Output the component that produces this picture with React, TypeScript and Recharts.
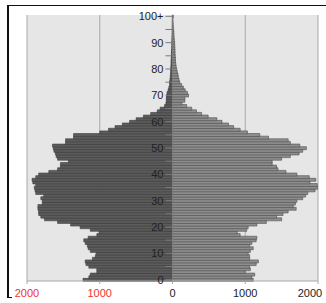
import { Bar, BarChart, CartesianGrid, ReferenceLine, XAxis, YAxis } from 'recharts';

const ages = [
  0, 1, 2, 3, 4, 5, 6, 7, 8, 9, 10, 11, 12, 13, 14, 15, 16, 17, 18, 19,
  20, 21, 22, 23, 24, 25, 26, 27, 28, 29, 30, 31, 32, 33, 34, 35, 36, 37, 38, 39,
  40, 41, 42, 43, 44, 45, 46, 47, 48, 49, 50, 51, 52, 53, 54, 55, 56, 57, 58, 59,
  60, 61, 62, 63, 64, 65, 66, 67, 68, 69, 70, 71, 72, 73, 74, 75, 76, 77, 78, 79,
  80, 81, 82, 83, 84, 85, 86, 87, 88, 89, 90, 91, 92, 93, 94, 95, 96, 97, 98, 99,
  100,
];

// males, ages 0..100+
const male = [
  1230, 1150, 1130, 1040, 1040, 1150, 1190, 1200, 1100, 1060,
  1050, 1130, 1160, 1170, 1200, 1220, 1160, 1040, 1010, 1130,
  1270, 1400, 1580, 1760, 1810, 1840, 1840, 1850, 1850, 1790,
  1790, 1810, 1770, 1880, 1890, 1900, 1880, 1920, 1930, 1880,
  1840, 1700, 1580, 1540, 1540, 1430, 1580, 1600, 1610, 1630,
  1640, 1650, 1470, 1470, 1360, 1360, 1000, 880, 790, 690,
  590, 500, 400, 300, 210, 170, 110, 90, 85, 85,
  80, 75, 60, 50, 40, 40, 35, 30, 28, 25,
  25, 22, 20, 20, 18, 16, 15, 14, 12, 10,
  10, 9, 8, 7, 6, 5, 5, 4, 4, 3,
  3,
];

// females, ages 0..100+
const female = [
  1110, 1090, 1130, 1000, 1070, 1060, 1150, 1180, 1060, 1060,
  1040, 1070, 1110, 1060, 1090, 1150, 1160, 930, 890, 1020,
  1040, 1160, 1290, 1500, 1430, 1520, 1590, 1700, 1660, 1690,
  1710, 1790, 1830, 1860, 1960, 2000, 1990, 1890, 1970, 1880,
  1710, 1560, 1450, 1430, 1370, 1370, 1500, 1620, 1740, 1790,
  1840, 1750, 1620, 1590, 1320, 1200, 1030, 930, 840, 770,
  680, 610, 490, 400, 330, 265, 195, 130, 170, 170,
  220, 205, 175, 150, 125, 100, 90, 80, 75, 65,
  57, 50, 45, 40, 40, 38, 35, 35, 33, 30,
  30, 25, 22, 20, 18, 15, 12, 10, 8, 6,
  12,
];

const xTicks = [-2000, -1000, 0, 1000, 2000];

const data = ages.map((age, i) => ({
  age,
  male: -male[i],
  female: female[i],
}));

const FONT = '"Liberation Sans", Arial, sans-serif';
const CENTER_X = 172.5;

function AgeTick(props: any) {
  const { y, payload } = props;
  const age = payload.value;
  return (
    <g>
      <line x1={CENTER_X - 7} x2={CENTER_X} y1={y} y2={y} stroke="#7a7a7a" />
      {age % 10 === 0 && (
        <text
          x={CENTER_X - 9}
          y={y}
          dy={4}
          textAnchor="end"
          fontSize={11}
          fontFamily={FONT}
          fill="#222"
        >
          {age === 100 ? '100+' : age}
        </text>
      )}
    </g>
  );
}

function ValueTick(props: any) {
  const { x, y, payload } = props;
  const v = payload.value;
  return (
    <text
      x={x}
      y={y}
      dy={11}
      textAnchor="middle"
      fontSize={11}
      fontFamily={FONT}
      fill={v < 0 ? '#ee3333' : '#222'}
    >
      {Math.abs(v)}
    </text>
  );
}

export default function App() {
  return (
    <div style={{ position: 'fixed', left: 0, top: 0, width: 326, height: 303, background: '#fff' }}>
      <div
        style={{
          position: 'absolute',
          left: 7,
          top: 5,
          width: 330,
          height: 292,
          borderLeft: '2px solid #111',
          borderTop: '1px solid #111',
        }}
      />
      <div style={{ position: 'absolute', left: 7, top: 297, width: 5, height: 1, background: '#111' }} />
      <BarChart
        width={326}
        height={303}
        data={data}
        layout="vertical"
        stackOffset="sign"
        barCategoryGap={0}
        margin={{ top: 15, right: 8, left: 26, bottom: 0 }}
        style={{ position: 'absolute', left: 0, top: 0 }}
      >
        <CartesianGrid horizontal={false} fill="#e6e6e6" stroke="#a8a8a8" />
        <XAxis
          type="number"
          domain={[-2000, 2000]}
          ticks={xTicks}
          height={22}
          stroke="#a8a8a8"
          tickSize={3}
          tick={<ValueTick />}
          allowDataOverflow
        />
        <Bar
          dataKey="male"
          stackId="a"
          fill="#5c5c5c"
          stroke="#3d3d3d"
          strokeWidth={0.6}
          isAnimationActive={false}
        />
        <Bar
          dataKey="female"
          stackId="a"
          fill="#8e8e8e"
          stroke="#4e4e4e"
          strokeWidth={0.6}
          isAnimationActive={false}
        />
        <ReferenceLine x={0} stroke="#7a7a7a" />
        <YAxis
          type="category"
          dataKey="age"
          reversed
          width={1}
          interval={4}
          axisLine={false}
          tickLine={false}
          tick={<AgeTick />}
        />
      </BarChart>
    </div>
  );
}
